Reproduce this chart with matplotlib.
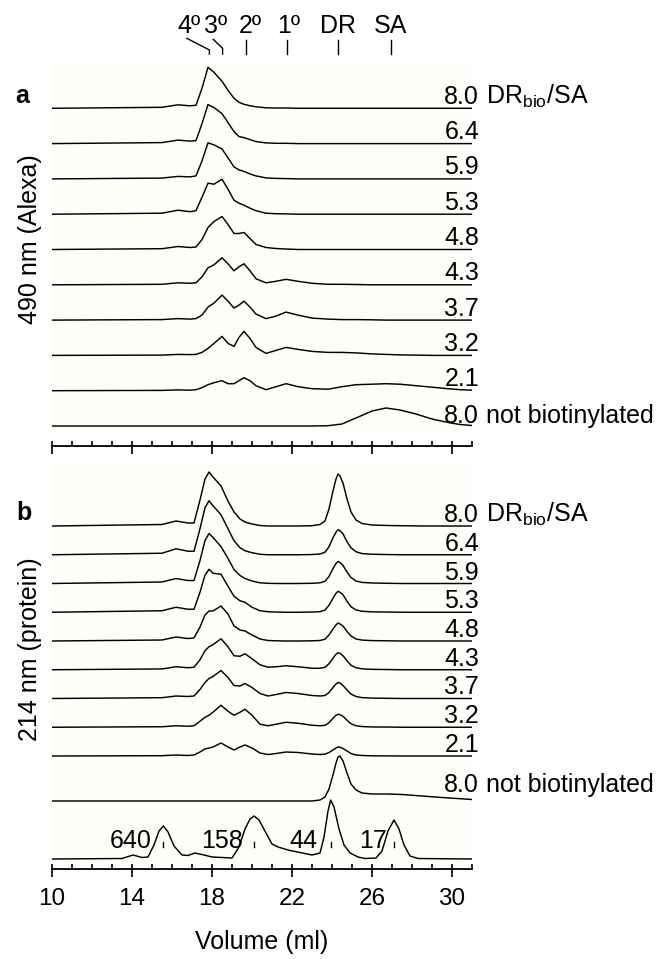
import numpy as np
import matplotlib
matplotlib.use("Agg")
import matplotlib.pyplot as plt
from matplotlib.ticker import FixedLocator, NullFormatter
from matplotlib.patches import Rectangle

plt.rcParams['font.family'] = ['Liberation Sans', 'DejaVu Sans']
plt.rcParams['mathtext.fontset'] = 'custom'
plt.rcParams['mathtext.rm'] = 'Liberation Sans'
plt.rcParams['mathtext.it'] = 'Liberation Sans:italic'
plt.rcParams['mathtext.bf'] = 'Liberation Sans:bold'

# ---------------- data ----------------
ratios = ["8.0", "6.4", "5.9", "5.3", "4.8", "4.3", "3.7", "3.2", "2.1", "8.0"]
first_suffix = r"DR$_{\mathrm{bio}}$/SA"
last_suffix = "not biotinylated"

species = ["4º", "3º", "2º", "1º", "DR", "SA"]
species_vol = [17.87, 18.53, 19.68, 21.73, 24.28, 26.93]

# Panel a: 490 nm (Alexa) absorbance, arbitrary units
vol_a = [10.0, 15.5, 16.3, 16.9, 17.2, 17.5, 17.8, 18.1, 18.5, 18.8, 19.1, 19.35, 19.6, 19.9,
         20.2, 20.7, 21.2, 21.7, 22.3, 23.0, 23.8, 24.5, 25.2, 26.0, 26.7, 27.4, 28.2, 29.0,
         29.8, 30.4, 31.0]
a_80 = [0, 1, 3.5, 2.5, 3, 20, 41, 36, 27, 18, 10, 6, 4, 2.5, 1.5, 0.5, 0.3, 0.3, 0, 0, 0, 0, 0, 0, 0, 0, 0, 0, 0, 0, 0]
a_64 = [0, 1, 3.5, 2.5, 3, 20, 39, 36, 30, 21, 12, 7, 6, 4, 2, 0.7, 0.3, 0.3, 0, 0, 0, 0, 0, 0, 0, 0, 0, 0, 0, 0, 0]
a_59 = [0, 0.8, 2.5, 2, 3, 18, 36, 34, 30, 21, 12, 9, 7.5, 5, 3, 1, 0.5, 0.3, 0, 0, 0, 0, 0, 0, 0, 0, 0, 0, 0, 0, 0]
a_53 = [0, 1, 4, 2.5, 3.5, 17, 31, 30, 35, 25, 14, 11, 9, 6, 3.5, 1, 0.5, 0.3, 0, 0, 0, 0, 0, 0, 0, 0, 0, 0, 0, 0, 0]
a_48 = [0, 0.8, 3, 2, 2.5, 10, 22, 28, 33, 25, 16, 16, 17, 11, 5, 2, 1, 0.5, 0, 0, 0, 0, 0, 0, 0, 0, 0, 0, 0, 0, 0]
a_43 = [0, 0.5, 2, 1.5, 2, 8, 17, 20, 27, 21, 14, 18, 21, 14, 6, 2, 3.5, 5.5, 3.5, 1.5, 0.5, 0.5, 0.3, 0, 0, 0, 0, 0, 0, 0, 0]
a_37 = [0, 0.5, 1.5, 1, 1.5, 5, 13, 17, 25, 19, 12, 15, 19, 13, 6, 1.5, 4, 8, 5, 2, 1, 0.5, 0.5, 0.3, 0, 0, 0, 0, 0, 0, 0]
a_32 = [0, 0.3, 1, 0.8, 1, 3, 7, 12, 19, 12, 9, 18, 24, 17, 8, 2, 5, 8, 6, 4, 3, 3, 2.5, 1.5, 1, 0.5, 0.3, 0, 0, 0, 0]
a_21 = [0, 0.3, 0.8, 0.5, 1, 3, 6, 8, 10, 7, 7, 10, 13, 10, 5, 1, 4, 7, 4, 2, 1.5, 4, 6, 6.5, 7, 6.5, 5, 3.5, 2, 1, 0.5]
a_nb = [0, 0, 0, 0, 0, 0, 0, 0, 0, 0, 0, 0, 0, 0, 0, 0, 0, 0, 0, 0, 0.3, 2, 8, 15, 18, 16, 12, 7, 3.5, 1.5, 0.5]
traces_a = [a_80, a_64, a_59, a_53, a_48, a_43, a_37, a_32, a_21, a_nb]

# Panel b: 214 nm (protein) absorbance, arbitrary units
vol_b = [10.0, 15.5, 16.2, 16.8, 17.1, 17.4, 17.65, 17.85, 18.05, 18.45, 18.8, 19.1, 19.4, 19.65,
         20.0, 20.4, 20.8, 21.2, 21.7, 22.3, 23.0,
         23.4, 23.65, 23.85, 24.05, 24.2, 24.3, 24.4, 24.55, 24.75, 24.95, 25.2, 25.5, 26.0,
         26.8, 27.5, 28.5, 29.5, 31.0]
b_80 = [0, 1.5, 5, 3, 3, 26, 47, 54, 49, 40, 25, 14, 7, 4, 2, 0.5, 0, 0, 0, 0, 0.3,
        1.5, 5, 17, 35, 47, 52, 50, 43, 27, 14, 6, 2.5, 1,
        0.5, 0.3, 0, 0, 0]
b_64 = [0, 1.5, 6, 3.5, 3.5, 26, 47, 54, 49, 40, 26, 14, 7, 4, 2, 0.5, 0, 0, 0, 0, 0.2,
        0.8, 2.5, 8, 17, 22.5, 25, 24, 21, 13, 7, 3, 1.2, 0.5,
        0.2, 0, 0, 0, 0]
b_59 = [0, 1.5, 5, 3, 3, 23, 43, 50, 46, 37, 25, 14, 8, 5, 2.5, 0.7, 0.2, 0, 0, 0, 0.2,
        0.7, 2.2, 7, 15, 20, 22, 21, 18, 11.5, 6, 2.5, 1.1, 0.5,
        0.2, 0, 0, 0, 0]
b_53 = [0, 1.5, 5, 3, 3, 20, 37, 43, 39, 38, 26, 16, 11.5, 10, 5, 1.5, 0.5, 0.2, 0, 0, 0.2,
        0.6, 2.1, 7, 14, 19, 21, 20, 17.5, 11, 5.5, 2.3, 1, 0.4,
        0.2, 0, 0, 0, 0]
b_48 = [0, 1, 4, 2.5, 3, 14, 26, 30, 30, 35, 27, 15, 11, 10, 6, 2, 0.5, 0.2, 0, 0, 0.2,
        0.5, 1.8, 6, 12, 16, 18, 17, 15, 9.5, 5, 2, 0.9, 0.4,
        0.2, 0, 0, 0, 0]
b_43 = [0, 0.8, 3, 2, 2.5, 10, 19, 23, 25, 31, 23, 14, 13.5, 16, 11, 5, 2.5, 3, 4, 3, 1.5,
        1.5, 2.5, 6, 11.5, 15.5, 17, 16.5, 14, 9, 4.5, 2, 0.9, 0.4,
        0.2, 0, 0, 0, 0]
b_37 = [0, 0.8, 2.5, 2, 2.5, 9, 16, 20, 22, 28, 21, 13, 12.5, 15, 11, 5, 2.5, 4, 6, 5, 3,
        2.5, 3, 6, 11, 14.5, 16, 15.5, 13, 8.5, 4.5, 2, 0.9, 0.4,
        0.2, 0, 0, 0, 0]
b_32 = [0, 0.5, 1.5, 1, 1.5, 6, 10, 12, 15, 22, 16, 12, 15, 18, 12, 3, 1.5, 3, 5, 4, 2,
        1.5, 2, 4.5, 9, 12, 13, 12.5, 11, 7, 3.5, 1.5, 0.7, 0.3,
        0.2, 0, 0, 0, 0]
b_21 = [0, 0.3, 1, 0.5, 1, 4, 7, 8, 9, 13, 9, 6, 9, 11, 8, 3, 1.5, 2.5, 4, 3.5, 2,
        1.5, 1.8, 3.5, 6, 8, 9, 8.8, 7.5, 5, 2.5, 1, 0.5, 0.2,
        0.1, 0, 0, 0, 0]
b_nb = [0, 0, 0, 0, 0, 0, 0, 0, 0, 0, 0, 0, 0, 0, 0, 0, 0, 0, 0, 0, 0,
        1, 4, 12, 26, 38, 44, 45, 40, 28, 17, 11, 8, 7,
        7, 6.5, 5, 3.5, 1.5]
traces_b = [b_80, b_64, b_59, b_53, b_48, b_43, b_37, b_32, b_21, b_nb]

# Calibration standards (kDa) trace
vol_cal = [10.0, 13.5, 14.05, 14.5, 14.8, 15.1, 15.35, 15.57, 15.8, 16.1, 16.5, 16.8, 17.15, 17.6,
           18.0, 18.5, 19.0, 19.35, 19.65, 19.9, 20.1, 20.35, 20.7, 21.0, 21.3, 21.8, 22.4, 23.0,
           23.4, 23.6, 23.8, 23.93, 24.1, 24.35, 24.6, 24.9, 25.3, 25.65, 26.2, 26.5, 26.8, 27.1,
           27.35, 27.6, 27.9, 28.3, 31.0]
cal = [0, 0.5, 4, 1.5, 2, 14, 28, 33, 27, 13, 4, 3.5, 6, 4, 2, 1.5, 1, 12, 30, 40, 43, 39, 26, 15,
       12, 9, 6.5, 4, 6, 22, 48, 59, 52, 30, 14, 6, 2, 0.5, 1, 8, 28, 39, 30, 14, 3, 0.5, 0]
cal_kda = ["640", "158", "44", "17"]
cal_vol = [15.57, 20.1, 23.93, 27.1]

# ---------------- layout ----------------
W, H = 667, 959
fig = plt.figure(figsize=(W / 100, H / 100), dpi=100)
FS = 18


def px_axes(x0, y_top, x1, y_bottom):
    return fig.add_axes([x0 / W, 1 - y_bottom / H, (x1 - x0) / W, (y_bottom - y_top) / H])


X0, X1 = 52, 472
A_SPINE = 446
axA = px_axes(X0, 55, X1, A_SPINE)
axB = px_axes(X0, 460, X1, 869)
axA.set_ylim(0, A_SPINE - 55)
axB.set_ylim(0, 409)

for ax in (axA, axB):
    ax.set_xlim(10, 31)
    ax.set_facecolor('none')
    for s in ('left', 'right', 'top'):
        ax.spines[s].set_visible(False)
    ax.spines['bottom'].set_linewidth(1.3)
    ax.set_yticks([])
    ax.xaxis.set_major_locator(FixedLocator([10, 14, 18, 22, 26, 30]))
    ax.xaxis.set_minor_locator(FixedLocator(list(range(10, 32))))
    ax.xaxis.remove_overlapping_locs = False
    ax.tick_params(which='major', direction='out', length=6, width=1.2)
    ax.tick_params(which='minor', direction='in', length=3.4, width=1.2)
    ax.xaxis.set_minor_formatter(NullFormatter())

axA.xaxis.set_major_formatter(NullFormatter())
axB.tick_params(which='major', labelsize=17.5, pad=8)

# faint background tint of the trace areas
axA.add_patch(Rectangle((10, 13), 21, 368, facecolor='#fefefa', edgecolor='none', zorder=0))
axB.add_patch(Rectangle((10, 6), 21, 398, facecolor='#fefefa', edgecolor='none', zorder=0))

LW = 1.05
# Panel a traces
A_BASE, A_STEP = 20, 35.3
n = len(traces_a)
for i, (lab, vals) in enumerate(zip(ratios, traces_a)):
    off = A_BASE + (n - 1 - i) * A_STEP
    axA.plot(vol_a, off + np.array(vals), color='k', lw=LW, solid_joinstyle='round')
    dy = 4.5 if i < n - 1 else 3
    axA.text(31.35, off + dy, lab, ha='right', va='baseline', fontsize=FS, clip_on=False)
    if i == 0:
        axA.text(31.7, off + dy, first_suffix, ha='left', va='baseline', fontsize=FS, clip_on=False)
    if i == n - 1:
        axA.text(31.7, off + dy, last_suffix, ha='left', va='baseline', fontsize=FS, clip_on=False)

# Panel b traces
B_TOP, B_STEP = 343, 28.75
B_NB, B_CAL = 68, 10
for i, (lab, vals) in enumerate(zip(ratios, traces_b)):
    off = B_TOP - i * B_STEP if i < n - 1 else B_NB
    axB.plot(vol_b, off + np.array(vals), color='k', lw=LW, solid_joinstyle='round')
    dy = 4 if i < n - 1 else 9
    axB.text(31.35, off + dy, lab, ha='right', va='baseline', fontsize=FS, clip_on=False)
    if i == 0:
        axB.text(31.7, off + dy, first_suffix, ha='left', va='baseline', fontsize=FS, clip_on=False)
    if i == n - 1:
        axB.text(31.7, off + dy, last_suffix, ha='left', va='baseline', fontsize=FS, clip_on=False)

axB.plot(vol_cal, B_CAL + np.array(cal), color='k', lw=LW, solid_joinstyle='round')
lab_shift = [0.57, 0.55, 0.68, 0.35]
for kda, v, sh in zip(cal_kda, cal_vol, lab_shift):
    axB.plot([v, v], [B_CAL + 12.5, B_CAL + 17.5], color='k', lw=1.0)
    axB.text(v - sh, B_CAL + 10.7, kda, ha='right', va='baseline', fontsize=FS)

# header species labels
HY = A_SPINE - 26
label_x = [16.85, 18.2, 19.9, 21.85, 24.28, 26.93]
for sp, lx in zip(species, label_x):
    axA.text(lx, HY, sp, ha='center', va='center', fontsize=FS, clip_on=False)
for j, v in enumerate(species_vol):
    top = A_SPINE - 40
    bot = A_SPINE - 54
    if j == 0:
        xs, ys = [v - 1.13, v, v], [top + 1.7, bot + 4, bot]
    elif j == 1:
        xs, ys = [v - 0.47, v, v], [top + 0.7, bot + 5.7, bot]
    else:
        xs, ys = [v, v], [bot, top]
    axA.plot(xs, ys, color='k', lw=1.0, clip_on=False)

# axis / panel labels
fig.text(30 / W, 1 - 239 / H, "490 nm (Alexa)", rotation=90, ha='center', va='center', fontsize=FS)
fig.text(30 / W, 1 - 649 / H, "214 nm (protein)", rotation=90, ha='center', va='center', fontsize=FS)
fig.text(22 / W, 1 - 96 / H, "a", ha='center', va='center', fontsize=18, fontweight='bold')
fig.text(24 / W, 1 - 513 / H, "b", ha='center', va='center', fontsize=18, fontweight='bold')
fig.text(262 / W, 1 - 942 / H, "Volume (ml)", ha='center', va='center', fontsize=FS)

fig.savefig("out.png", dpi=100)
